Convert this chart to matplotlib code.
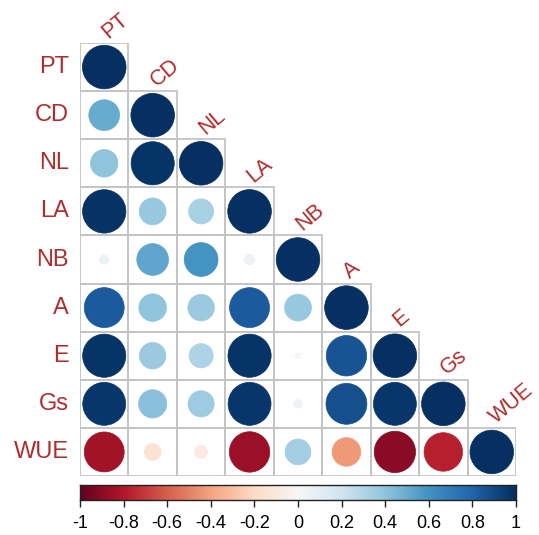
import numpy as np
import matplotlib
matplotlib.use("Agg")
import matplotlib.pyplot as plt
from matplotlib.patches import Rectangle, Ellipse

# Variables and lower-triangle correlation coefficients (row-wise, below the diagonal)
variables = ["PT", "CD", "NL", "LA", "NB", "A", "E", "Gs", "WUE"]
row_CD = [0.50]
row_NL = [0.40, 0.98]
row_LA = [0.99, 0.38, 0.33]
row_NB = [0.05, 0.53, 0.60, 0.06]
row_A = [0.84, 0.40, 0.37, 0.84, 0.38]
row_E = [0.98, 0.37, 0.31, 0.98, 0.02, 0.86]
row_Gs = [0.97, 0.42, 0.36, 0.97, 0.04, 0.88, 0.97]
row_WUE = [-0.84, -0.15, -0.09, -0.86, 0.35, -0.43, -0.90, -0.78]
lower_rows = [[], row_CD, row_NL, row_LA, row_NB, row_A, row_E, row_Gs, row_WUE]

cbar_ticks = [-1, -0.8, -0.6, -0.4, -0.2, 0, 0.2, 0.4, 0.6, 0.8, 1]
cbar_labels = ["-1", "-0.8", "-0.6", "-0.4", "-0.2", "0", "0.2", "0.4", "0.6", "0.8", "1"]

n = len(variables)
corr = np.eye(n)
for i, row in enumerate(lower_rows):
    for j, v in enumerate(row):
        corr[i, j] = v
        corr[j, i] = v

W, H = 539, 535
fig = plt.figure(figsize=(W / 100, H / 100), dpi=100)
fig.patch.set_facecolor("white")

gx0, gx1, gy0, gy1 = 80, 516, 43, 476
ax = fig.add_axes([gx0 / W, 1 - gy1 / H, (gx1 - gx0) / W, (gy1 - gy0) / H])
ax.set_xlim(0.5, n + 0.5)
ax.set_ylim(n + 0.5, 0.5)
ax.axis("off")

cmap = plt.get_cmap("RdBu")
norm = matplotlib.colors.Normalize(-1, 1)
cell_w = (gx1 - gx0) / n
cell_h = (gy1 - gy0) / n
label_col = "#B22C2C"
font = "Liberation Sans"

for i in range(n):
    for j in range(i + 1):
        ax.add_patch(Rectangle((j + 0.5, i + 0.5), 1, 1, facecolor="none",
                               edgecolor="#C4C4C4", lw=1.3, zorder=1))
for i in range(n):
    for j in range(i + 1):
        v = corr[i, j]
        d = 0.9 * np.sqrt(abs(v))
        c = cmap(norm(v))
        ax.add_patch(Ellipse((j + 1, i + 1), d, d * cell_w / cell_h,
                             facecolor=c, edgecolor=c, lw=0.5, zorder=2))

for i, name in enumerate(variables):
    ax.text(0.5 - 0.23, i + 1, name, ha="right", va="center", fontsize=17,
            color=label_col, family=font, clip_on=False)
    ax.text(i + 1 + 0.08, i + 0.5 - 0.09, name, ha="left", va="baseline",
            rotation=40, rotation_mode="anchor", fontsize=15.5,
            color=label_col, family=font, clip_on=False)

# Colour legend bar
cy0, cy1 = 485, 500
cax = fig.add_axes([gx0 / W, 1 - cy1 / H, (gx1 - gx0) / W, (cy1 - cy0) / H])
grad = np.linspace(-1, 1, 400).reshape(1, -1)
cax.imshow(grad, cmap=cmap, norm=norm, aspect="auto", extent=(-1, 1, 0, 1))
cax.set_xlim(-1, 1)
cax.set_ylim(0, 1)
cax.set_yticks([])
cax.set_xticks(cbar_ticks)
cax.set_xticklabels(cbar_labels, family=font, fontsize=13)
cax.tick_params(axis="x", direction="out", length=5, width=1, pad=6, color="#222222")
for s in cax.spines.values():
    s.set_linewidth(1.0)
    s.set_color("#222222")

fig.savefig("out.png", dpi=100, facecolor="white")
